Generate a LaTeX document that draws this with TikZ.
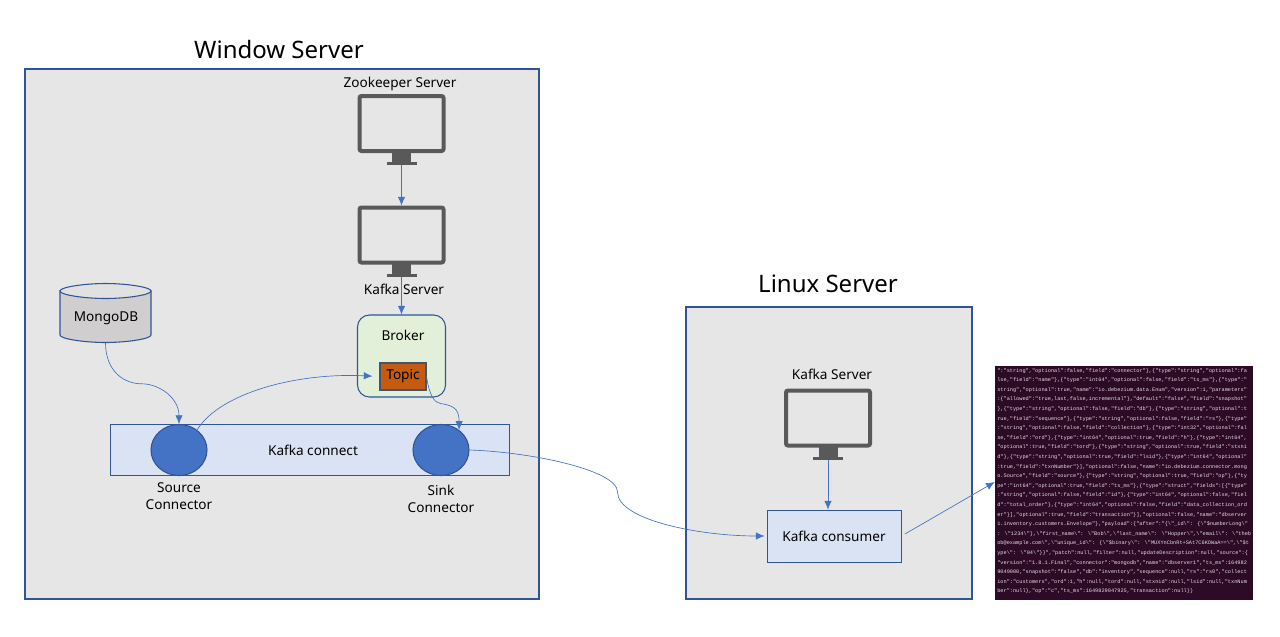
\documentclass[tikz,border=0pt]{standalone}
\usepackage{fontspec}
\setmainfont{Noto Sans}
\newfontfamily\jsonfont{Liberation Mono}
\usetikzlibrary{arrows.meta,shapes.geometric,calc}
\definecolor{panelfill}{HTML}{E7E6E6}
\definecolor{edgeblue}{HTML}{2F5597}
\definecolor{linkblue}{HTML}{4472C4}
\definecolor{barfill}{HTML}{DAE3F3}
\definecolor{greenfill}{HTML}{E2F0D9}
\definecolor{topicfill}{HTML}{C55A11}
\definecolor{topicedge}{HTML}{44546A}
\definecolor{mongofill}{HTML}{D0CECE}
\definecolor{mongotop}{HTML}{E2E1E1}
\definecolor{screen}{HTML}{595959}
\definecolor{termbg}{HTML}{2D0A26}
\definecolor{termfg}{HTML}{E4DDE2}
\newcommand{\pxl}{0.75pt}
\newcommand{\bs}{\textbackslash}
\tikzset{
  x=0.75pt,y=-0.75pt,
  every node/.style={font=\fontsize{10.2}{13}\selectfont,text=black,inner sep=0pt},
  titletext/.style={font=\fontsize{18}{22}\selectfont},
  panelbox/.style={draw=edgeblue,fill=panelfill,line width=0.8pt,rectangle},
  blockbox/.style={draw=edgeblue,fill=barfill,line width=0.7pt,rectangle},
  blob/.style={draw=edgeblue,fill=linkblue,line width=0.8pt,ellipse,minimum width=56*\pxl,minimum height=51*\pxl},
  link/.style={draw=linkblue,line width=0.5pt,-{Latex[length=6.5pt,width=5.5pt]}},
  monbody/.style={draw=screen,line width=3pt,rounded corners=1.5pt,rectangle,minimum width=84*\pxl,minimum height=55*\pxl},
  monpart/.style={fill=screen,rectangle},
  mon/.pic={
    \node[monbody] (-body) at (0,0) {};
    \node[monpart,minimum width=19*\pxl,minimum height=10*\pxl] (-neck) at (0,34) {};
    \node[monpart,minimum width=30*\pxl,minimum height=3*\pxl] (-foot) at (0,40) {};
  },
}
\begin{document}
\begin{tikzpicture}
\useasboundingbox (0,0) rectangle (1280,636);
\fill[white] (0,0) rectangle (1280,636);
% panels
\node[panelbox,minimum width=514*\pxl,minimum height=530*\pxl] (winpanel) at (282,334) {};
\node[panelbox,minimum width=286*\pxl,minimum height=292*\pxl] (linpanel) at (829,453) {};
\node[titletext] (wintitle) at (279,49) {Window Server};
\node[titletext] (lintitle) at (828,284) {Linux Server};
% monitors
\pic (zk) at (401.5,123.5) {mon};
\pic (kf) at (401.5,235) {mon};
\pic (lk) at (828,418) {mon};
\node (zklabel) at (400,84) {Zookeeper Server};
\node (kflabel) at (404,289) {Kafka Server};
\node (lklabel) at (832,374) {Kafka Server};
% broker
\node[draw=edgeblue,fill=greenfill,line width=0.8pt,rectangle,rounded corners=9pt,minimum width=88*\pxl,minimum height=82*\pxl] (broker) at (401.5,356) {};
\node (brokerlabel) at (403,335) {Broker};
\node[draw=topicedge,fill=topicfill,line width=0.8pt,rectangle,minimum width=46*\pxl,minimum height=27*\pxl] (topic) at (403,376.5) {Topic};
% kafka connect
\node[blockbox,minimum width=399*\pxl,minimum height=51*\pxl] (connect) at (309.5,450) {};
\node (connectlabel) at (313,450) {Kafka connect};
\node[blob] (source) at (179,450) {};
\node[blob] (sink) at (441,450) {};
\node[align=center] (sourcelabel) at (179,496) {Source\\Connector};
\node[align=center] (sinklabel) at (441,499) {Sink\\Connector};
% mongo
\draw[draw=edgeblue,fill=mongofill,line width=0.8pt] (60,291) -- (60,335)
  .. controls (60,339) and (85,342.5) .. (105.5,342.5)
  .. controls (126,342.5) and (151,339) .. (151,335) -- (151,291) -- cycle;
\draw[draw=edgeblue,fill=mongotop,line width=0.8pt] (60,291)
  .. controls (60,287) and (85,283.5) .. (105.5,283.5)
  .. controls (126,283.5) and (151,287) .. (151,291)
  .. controls (151,295) and (126,298.5) .. (105.5,298.5)
  .. controls (85,298.5) and (60,295) .. (60,291) -- cycle;
\node[rectangle,minimum width=91*\pxl,minimum height=59*\pxl] (mongo) at (105.5,313) {};
\node (mongolabel) at (106,318) {MongoDB};
% consumer
\node[blockbox,minimum width=134*\pxl,minimum height=52*\pxl] (consumer) at (834,536) {Kafka consumer};
% terminal
\node[fill=termbg,rectangle,minimum width=258*\pxl,minimum height=234*\pxl] (terminal) at (1124,483) {};
\node[anchor=north west,align=left,text=termfg,font=\jsonfont\fontsize{3.95}{7.2}\selectfont] (termtext) at (997,368) {%
":"string","optional":false,"field":"connector"\},\{"type":"string","optional":fa\\
lse,"field":"name"\},\{"type":"int64","optional":false,"field":"ts\_ms"\},\{"type":"\\
string","optional":true,"name":"io.debezium.data.Enum","version":1,"parameters"\\
:\{"allowed":"true,last,false,incremental"\},"default":"false","field":"snapshot"\\
\},\{"type":"string","optional":false,"field":"db"\},\{"type":"string","optional":t\\
rue,"field":"sequence"\},\{"type":"string","optional":false,"field":"rs"\},\{"type"\\
:"string","optional":false,"field":"collection"\},\{"type":"int32","optional":fal\\
se,"field":"ord"\},\{"type":"int64","optional":true,"field":"h"\},\{"type":"int64",\\
"optional":true,"field":"tord"\},\{"type":"string","optional":true,"field":"stxni\\
d"\},\{"type":"string","optional":true,"field":"lsid"\},\{"type":"int64","optional"\\
:true,"field":"txnNumber"\}],"optional":false,"name":"io.debezium.connector.mong\\
o.Source","field":"source"\},\{"type":"string","optional":true,"field":"op"\},\{"ty\\
pe":"int64","optional":true,"field":"ts\_ms"\},\{"type":"struct","fields":[\{"type"\\
:"string","optional":false,"field":"id"\},\{"type":"int64","optional":false,"fiel\\
d":"total\_order"\},\{"type":"int64","optional":false,"field":"data\_collection\_ord\\
er"\}],"optional":true,"field":"transaction"\}],"optional":false,"name":"dbserver\\
1.inventory.customers.Envelope"\},"payload":\{"after":"\{\bs"\_id\bs": \{\bs"\$numberLong\bs"\\
: \bs"1234\bs"\},\bs"first\_name\bs": \bs"Bob\bs",\bs"last\_name\bs": \bs"Hopper\bs",\bs"email\bs": \bs"theb\\
ob@example.com\bs",\bs"unique\_id\bs": \{\bs"\$binary\bs": \bs"MUXYnCbnRt+SAt7C6KOWaA==\bs",\bs"\$t\\
ype\bs": \bs"04\bs"\}\}","patch":null,"filter":null,"updateDescription":null,"source":\{\\
"version":"1.8.1.Final","connector":"mongodb","name":"dbserver1","ts\_ms":164982\\
9049000,"snapshot":"false","db":"inventory","sequence":null,"rs":"rs0","collect\\
ion":"customers","ord":1,"h":null,"tord":null,"stxnid":null,"lsid":null,"txnNum\\
ber":null\},"op":"c","ts\_ms":1649829047925,"transaction":null\}\}};
% connectors
\draw[link] (zk-foot.south) -- (kf-body.north);
\draw[link] (kf-foot.south) -- (kf-foot.south |- broker.north);
\draw[link] (lk-foot.south) -- (lk-foot.south |- consumer.north);
\draw[link] (mongo.south) .. controls ($(mongo.south)+(0,28)$) and ($(mongo.south)+(18,41)$) .. ($(mongo.south)+(36,41)$)
  .. controls ($(mongo.south)+(54,41)$) and ($(source.north)+(0,-26)$) .. (source.north);
\draw[link,shorten >=7*\pxl] (source.48) .. controls ($(source.48)+(22,-36)$) and ($(topic.west)+(-85,-4)$) .. (topic.west);
\draw[link] (topic.east) .. controls ($(topic.east)+(3,20)$) and ($(topic.east)+(8,26)$) .. ($(topic.east)+(14,27)$)
  .. controls ($(topic.east)+(26,29)$) and ($(sink.48)+(0,-22)$) .. (sink.48);
\draw[link,shorten >=2*\pxl] (sink.east) .. controls ($(sink.east)+(61,2)$) and ($(sink.east)+(148,20)$) .. ($(sink.east)+(148,42)$)
  .. controls ($(sink.east)+(148,70)$) and ($(consumer.west)+(-67,0)$) .. (consumer.west);
\draw[link,shorten <=4*\pxl] (consumer.east) -- (terminal.west |- 0,482);
\end{tikzpicture}
\end{document}
